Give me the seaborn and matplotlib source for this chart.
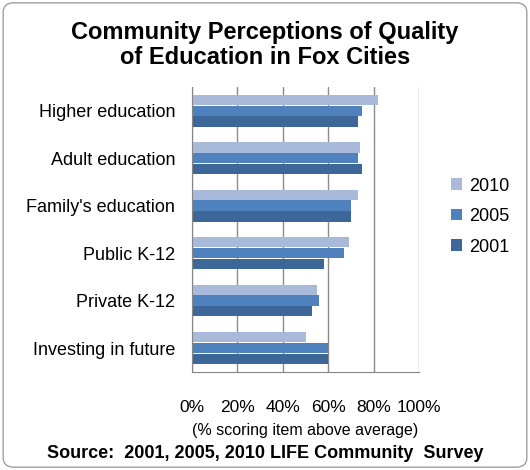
import pandas as pd
import matplotlib.pyplot as plt
import seaborn as sns
from matplotlib.patches import FancyBboxPatch

# 데이터
categories = ['Higher education', 'Adult education', "Family's education",
              'Public K-12', 'Private K-12', 'Investing in future']
years = ['2010', '2005', '2001']
vals_2010 = [82, 74, 73, 69, 55, 50]
vals_2005 = [75, 73, 70, 67, 56, 60]
vals_2001 = [73, 75, 70, 58, 53, 60]
colors = ['#A8B9D9', '#4F81BD', '#3E6799']

df = pd.DataFrame({
    'category': categories * 3,
    'year': ['2010'] * 6 + ['2005'] * 6 + ['2001'] * 6,
    'value': vals_2010 + vals_2005 + vals_2001,
})

sns.set_style('white')
plt.rcParams['font.family'] = ['Liberation Sans', 'DejaVu Sans']
plt.rcParams['text.color'] = 'black'
plt.rcParams['xtick.color'] = 'black'
plt.rcParams['ytick.color'] = 'black'
plt.rcParams['axes.labelcolor'] = 'black'

fig = plt.figure(figsize=(5.3, 4.7), dpi=100)
ax = fig.add_axes([0.362, 0.209, 0.429, 0.606])

sns.barplot(data=df, y='category', x='value', hue='year', hue_order=years,
            palette=colors, orient='h', width=0.68, gap=0.04, ax=ax,
            edgecolor='none', saturation=1)

ax.set_xlim(0, 100)
ax.set_xticks([0, 20, 40, 60, 80, 100])
ax.set_xticklabels(['0%', '20%', '40%', '60%', '80%', '100%'], fontsize=12.5)
ax.tick_params(axis='y', labelsize=13, length=0, pad=12)
ax.tick_params(axis='x', length=0, pad=20)
ax.set_ylabel('')
ax.set_xlabel('(% scoring item above average)', fontsize=11.5, labelpad=6)
ax.grid(True, axis='x', color='#8C8C8C', linewidth=1)
ax.set_axisbelow(True)
for s in ['top', 'right']:
    ax.spines[s].set_visible(False)
ax.spines['left'].set_color('#868686')
ax.spines['bottom'].set_color('#868686')

ax.legend(loc='center left', bbox_to_anchor=(1.07, 0.545), frameon=False,
          fontsize=13, handlelength=0.6, handleheight=0.6, handletextpad=0.4,
          labelspacing=0.75)

fig.text(0.5, 0.905, 'Community Perceptions of Quality\nof Education in Fox Cities',
         ha='center', va='center', fontsize=17, fontweight='bold', linespacing=1.1)
fig.text(0.5, 0.036, 'Source:  2001, 2005, 2010 LIFE Community  Survey',
         ha='center', va='center', fontsize=13, fontweight='bold')

border = FancyBboxPatch((0.006, 0.006), 0.988, 0.988, boxstyle='round,pad=0,rounding_size=0.02',
                        transform=fig.transFigure, fill=False, edgecolor='#A0A0A0', linewidth=1)
fig.patches.append(border)

plt.savefig('out.png', dpi=100)
